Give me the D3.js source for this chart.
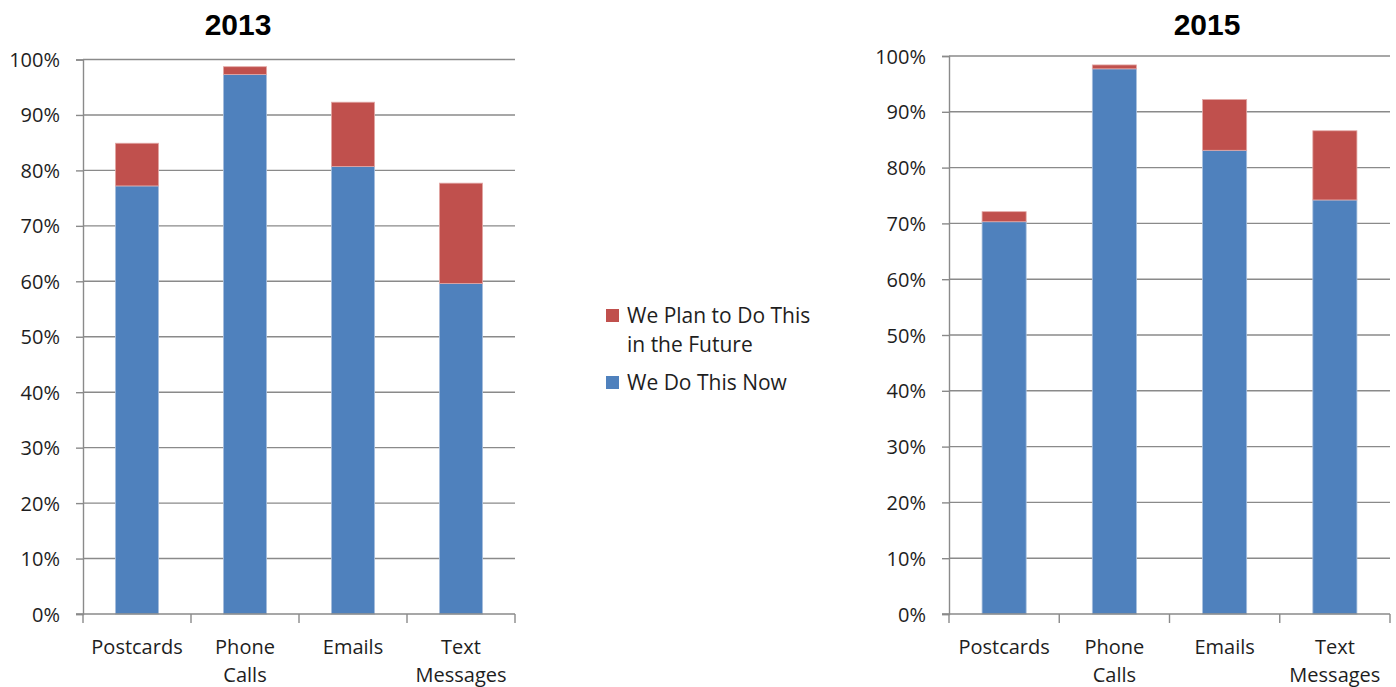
<!DOCTYPE html>
<html>
<head>
<meta charset="utf-8">
<script src="https://cdn.jsdelivr.net/npm/d3@7"></script>
<style>
  html, body { margin: 0; padding: 0; background: #fff; }
  svg { display: block; }
  text { font-family: "Open Sans", "Liberation Sans", sans-serif; }
</style>
</head>
<body>
<svg id="chart" width="1396" height="687"></svg>
<script>
// Communication channels used by the organisation (share of respondents, %)
const categories = ["Postcards", "Phone Calls", "Emails", "Text Messages"];
const categoryLines = [["Postcards"], ["Phone", "Calls"], ["Emails"], ["Text", "Messages"]];

const now2013  = [77.2, 97.3, 80.7, 59.6];
const plan2013 = [7.7, 1.4, 11.6, 18.1];

const now2015  = [70.3, 97.7, 83.1, 74.2];
const plan2015 = [1.8, 0.7, 9.1, 12.4];

const yTicks = [0, 10, 20, 30, 40, 50, 60, 70, 80, 90, 100];
const seriesNames = ["We Plan to Do This in the Future", "We Do This Now"];

const BLUE = "#4F81BD";
const RED = "#C0504D";
const GRID = "#8a8a8a";
const TEXT = "#1e1e1e";

const svg = d3.select("#chart");

function drawPanel(cfg) {
  const g = svg.append("g");
  const x = d3.scaleBand()
    .domain(categories)
    .range([cfg.left, cfg.right])
    .paddingInner(0.6)
    .paddingOuter(0.3);
  const y = d3.scaleLinear().domain([0, 100]).range([cfg.bottom, cfg.top]);

  // horizontal gridlines
  g.append("g").selectAll("line")
    .data(yTicks.filter(t => t > 0))
    .join("line")
    .attr("x1", cfg.left).attr("x2", cfg.right)
    .attr("y1", d => y(d)).attr("y2", d => y(d))
    .attr("stroke", GRID).attr("stroke-width", 1.4);

  // y axis
  const yAxis = d3.axisLeft(y)
    .tickValues(yTicks)
    .tickSize(7)
    .tickPadding(16)
    .tickFormat(d => d + "%");
  const ya = g.append("g").attr("transform", `translate(${cfg.left},0)`).call(yAxis);
  ya.select(".domain").attr("stroke", GRID).attr("stroke-width", 1.4);
  ya.selectAll(".tick line").attr("stroke", GRID).attr("stroke-width", 1.4);
  ya.selectAll(".tick text")
    .attr("fill", TEXT)
    .style("font-size", "20px")
    .attr("dy", "0.35em");

  // stacked bars
  const rows = categories.map((c, i) => ({ c, now: cfg.now[i], plan: cfg.plan[i] }));
  g.append("g").selectAll("rect")
    .data(rows)
    .join("rect")
    .attr("x", d => x(d.c))
    .attr("width", x.bandwidth())
    .attr("y", d => y(d.now))
    .attr("height", d => y(0) - y(d.now))
    .attr("fill", BLUE)
    .attr("stroke", "#a9c0de").attr("stroke-width", 0.8);
  g.append("g").selectAll("rect")
    .data(rows)
    .join("rect")
    .attr("x", d => x(d.c))
    .attr("width", x.bandwidth())
    .attr("y", d => y(d.now + d.plan))
    .attr("height", d => y(d.now) - y(d.now + d.plan))
    .attr("fill", RED)
    .attr("stroke", "#e3a9a7").attr("stroke-width", 0.8);

  // x axis line and category separators
  g.append("line")
    .attr("x1", cfg.left - 7).attr("x2", cfg.right)
    .attr("y1", y(0)).attr("y2", y(0))
    .attr("stroke", GRID).attr("stroke-width", 1.4);
  const bounds = categories.map((c, i) => cfg.left + i * x.step());
  bounds.push(cfg.right);
  g.append("g").selectAll("line")
    .data(bounds)
    .join("line")
    .attr("x1", d => d).attr("x2", d => d)
    .attr("y1", y(0)).attr("y2", y(0) + 9)
    .attr("stroke", GRID).attr("stroke-width", 1.4);

  // category labels
  const lbl = g.append("g").selectAll("text")
    .data(categories)
    .join("text")
    .attr("text-anchor", "middle")
    .attr("fill", TEXT)
    .style("font-size", "20px")
    .attr("x", d => x(d) + x.bandwidth() / 2)
    .attr("y", y(0) + 40);
  lbl.selectAll("tspan")
    .data((d, i) => categoryLines[i])
    .join("tspan")
    .attr("x", function () { return d3.select(this.parentNode).attr("x"); })
    .attr("dy", (d, i) => i === 0 ? 0 : 28)
    .text(d => d);

  // title
  g.append("text")
    .attr("x", cfg.titleX).attr("y", 35)
    .attr("text-anchor", "middle")
    .attr("fill", "#000")
    .style("font-family", "'Liberation Sans', Arial, sans-serif")
    .style("font-weight", "bold")
    .style("font-size", "30px")
    .text(cfg.title);
}

drawPanel({ title: "2013", titleX: 238, left: 83, right: 515, top: 59.5, bottom: 614, now: now2013, plan: plan2013 });
drawPanel({ title: "2015", titleX: 1207, left: 949, right: 1390, top: 56, bottom: 614, now: now2015, plan: plan2015 });

// legend
const legend = svg.append("g");
const legendItems = [
  { color: RED, lines: ["We Plan to Do This", "in the Future"], y: 323 },
  { color: BLUE, lines: ["We Do This Now"], y: 390 }
];
legendItems.forEach(item => {
  legend.append("rect")
    .attr("x", 606).attr("y", item.y - 14)
    .attr("width", 13).attr("height", 13)
    .attr("fill", item.color);
  const t = legend.append("text")
    .attr("x", 627).attr("y", item.y)
    .attr("fill", TEXT)
    .style("font-size", "21px");
  t.selectAll("tspan")
    .data(item.lines)
    .join("tspan")
    .attr("x", 627)
    .attr("dy", (d, i) => i === 0 ? 0 : 28.5)
    .text(d => d);
});
</script>
</body>
</html>
